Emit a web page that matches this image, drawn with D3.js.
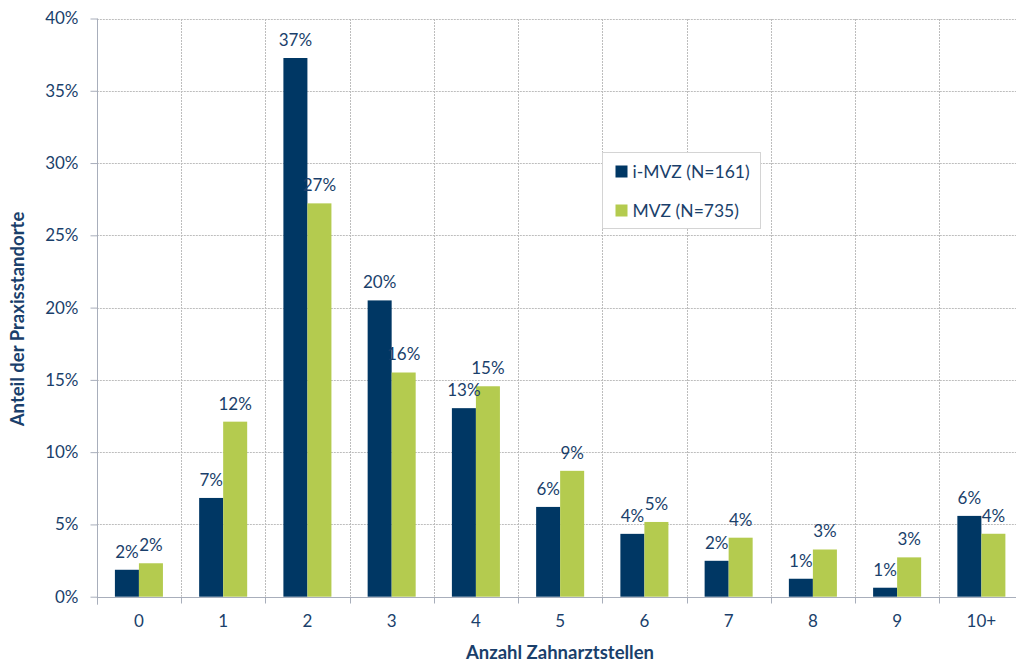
<!DOCTYPE html>
<html>
<head>
<meta charset="utf-8">
<script src="https://cdn.jsdelivr.net/npm/d3@7"></script>
<style>
  html, body { margin: 0; padding: 0; background: #fff; }
  svg { display: block; font-family: Lato, "Open Sans", sans-serif; }
</style>
</head>
<body>
<svg id="chart" width="1016" height="664"></svg>
<script>
// Anzahl Zahnarztstellen je Praxisstandort
const categories = ["0", "1", "2", "3", "4", "5", "6", "7", "8", "9", "10+"];
const seriesNames = ["i-MVZ (N=161)", "MVZ (N=735)"];
const imvzValues = [1.863, 6.832, 37.267, 20.497, 13.043, 6.211, 4.348, 2.484, 1.242, 0.621, 5.590];
const mvzValues  = [2.313, 12.109, 27.211, 15.510, 14.558, 8.707, 5.170, 4.082, 3.265, 2.721, 4.354];
const yTicks = [0, 5, 10, 15, 20, 25, 30, 35, 40];

const colors = ["#003764", "#B4CB4F"];
const textColor = "#1A3F6B";
const gridColor = "#BDBDBD";
const axisColor = "#A8AEBB";

const svg = d3.select("#chart");
const plotLeft = 96.8, plotRight = 1023.5, plotBottom = 596.7, plotTop = 18.5;

const x = d3.scaleBand().domain(categories).range([plotLeft, plotRight]).padding(0);
const x1 = d3.scaleBand().domain([0, 1]).range([0, x.bandwidth()]).paddingInner(0).paddingOuter(0.754);
const y = d3.scaleLinear().domain([0, 40]).range([plotBottom, plotTop]);

const series = [imvzValues, mvzValues];
const rows = categories.map((c, i) => ({ cat: c, vals: series.map(s => s[i]) }));

// horizontal gridlines
svg.append("g")
  .selectAll("line")
  .data(yTicks.filter(t => t > 0))
  .join("line")
  .attr("x1", plotLeft).attr("x2", 1016)
  .attr("y1", d => Math.round(y(d)) + 0.5).attr("y2", d => Math.round(y(d)) + 0.5)
  .attr("stroke", gridColor).attr("stroke-dasharray", "2,1");

// vertical gridlines at category boundaries
const bounds = categories.slice(1).map(c => x(c));
svg.append("g")
  .selectAll("line")
  .data(bounds)
  .join("line")
  .attr("x1", d => Math.round(d) + 0.5).attr("x2", d => Math.round(d) + 0.5)
  .attr("y1", Math.round(y(40))).attr("y2", plotBottom)
  .attr("stroke", gridColor).attr("stroke-dasharray", "2,1");

// bars
const groups = svg.append("g")
  .selectAll("g")
  .data(rows)
  .join("g")
  .attr("transform", d => `translate(${x(d.cat)},0)`);

groups.selectAll("rect")
  .data(d => d.vals.map((v, k) => ({ v, k })))
  .join("rect")
  .attr("x", d => x1(d.k))
  .attr("width", x1.bandwidth())
  .attr("y", d => y(d.v))
  .attr("height", d => plotBottom - y(d.v))
  .attr("fill", d => colors[d.k]);

// value labels
groups.selectAll("text")
  .data(d => d.vals.map((v, k) => ({ v, k })))
  .join("text")
  .attr("x", d => x1(d.k) + x1.bandwidth() / 2)
  .attr("y", d => y(d.v) - 18)
  .attr("dy", "0.35em")
  .attr("text-anchor", "middle")
  .attr("font-size", 17)
  .attr("fill", textColor)
  .text(d => Math.round(d.v) + "%");

// y axis
const yAxis = svg.append("g")
  .attr("transform", `translate(${Math.round(plotLeft) + 0.5},0)`)
  .call(d3.axisLeft(y).tickValues(yTicks).tickFormat(d => d + "%").tickSize(7).tickPadding(12));
yAxis.select(".domain").attr("stroke", axisColor).attr("d", `M0,${plotTop}V${plotBottom + 8}`);
yAxis.selectAll(".tick line").attr("stroke", axisColor);
yAxis.selectAll(".tick text").attr("font-size", 17).attr("fill", textColor).attr("font-family", "Lato, sans-serif");

// x axis
const xAxis = svg.append("g")
  .attr("transform", `translate(0,${Math.round(plotBottom) + 0.5})`)
  .call(d3.axisBottom(x).tickSize(0).tickPadding(17));
xAxis.select(".domain").attr("stroke", axisColor).attr("d", `M${plotLeft},0H1016`);
xAxis.selectAll(".tick text").attr("font-size", 17).attr("fill", textColor).attr("font-family", "Lato, sans-serif");
xAxis.append("g")
  .selectAll("line")
  .data(bounds)
  .join("line")
  .attr("x1", d => Math.round(d) + 0.5).attr("x2", d => Math.round(d) + 0.5)
  .attr("y1", 0).attr("y2", 6)
  .attr("stroke", axisColor);

// axis titles
svg.append("text")
  .attr("x", 560).attr("y", 653)
  .attr("dy", "0.35em")
  .attr("text-anchor", "middle")
  .attr("font-size", 18.5).attr("font-weight", "bold")
  .attr("fill", textColor)
  .text("Anzahl Zahnarztstellen");

svg.append("text")
  .attr("transform", "translate(18,319) rotate(-90)")
  .attr("dy", "0.35em")
  .attr("text-anchor", "middle")
  .attr("font-size", 18.5).attr("font-weight", "bold")
  .attr("fill", textColor)
  .text("Anteil der Praxisstandorte");

// legend
const legend = svg.append("g").attr("transform", "translate(602.5,152.5)");
legend.append("rect")
  .attr("width", 158).attr("height", 76)
  .attr("fill", "#fff").attr("stroke", "#D4D4D4");
const items = legend.selectAll("g.item")
  .data(seriesNames)
  .join("g").attr("class", "item")
  .attr("transform", (d, i) => `translate(13,${19 + i * 39})`);
items.append("rect")
  .attr("x", 0).attr("y", -6).attr("width", 12).attr("height", 12)
  .attr("fill", (d, i) => colors[i]);
items.append("text")
  .attr("x", 17).attr("dy", "0.35em")
  .attr("font-size", 17.5).attr("fill", textColor)
  .text(d => d);
</script>
</body>
</html>
